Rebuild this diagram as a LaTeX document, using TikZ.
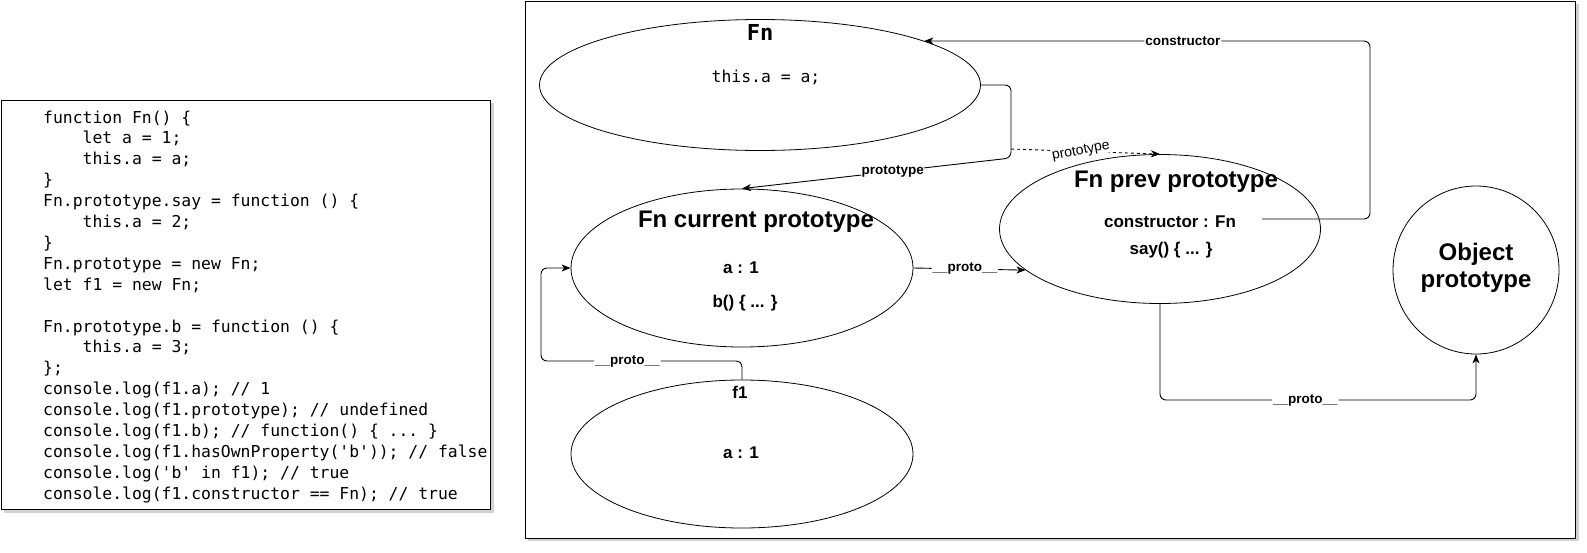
\documentclass[tikz,border=0pt]{standalone}
\usepackage{fontspec}
\setmainfont{Liberation Sans}
\setmonofont{DejaVu Sans Mono}
\usetikzlibrary{shapes.geometric,arrows.meta}
\begin{document}
\begin{tikzpicture}[x=1pt,y=-1pt,
 ell/.style={ellipse,draw,line width=0.8pt,inner sep=0pt},
 tip/.style={-{Stealth[length=9pt,width=7pt,inset=2.5pt]}},
 conn/.style={draw,line width=0.9pt,rounded corners=6pt,tip},
 lbl/.style={fill=white,inner sep=1pt,font=\fontsize{13.5}{15}\selectfont\bfseries},
 lbltwo/.style={fill=white,inner sep=0.5pt,font=\fontsize{14}{15}\selectfont},
 ttl/.style={inner sep=0pt,font=\fontsize{24}{28}\selectfont\bfseries},
 body/.style={inner sep=0pt,font=\fontsize{17}{20}\selectfont\bfseries},
 code/.style={anchor=base west,inner sep=0pt,font=\ttfamily\fontsize{16.4}{20}\selectfont},
]
\useasboundingbox (0,0) rectangle (1587,552);
% code box
\fill[gray!35] (4,103) rectangle (494,513);
\draw[fill=white,line width=0.8pt] (1,100) rectangle (490,509);
\node[code] (c1) at (43,123) {function Fn() \{};
\node[code] (c2) at (82.5,143.9) {let a = 1;};
\node[code] (c3) at (82.5,164.8) {this.a = a;};
\node[code] (c4) at (43,185.7) {\}};
\node[code] (c5) at (43,206.6) {Fn.prototype.say = function () \{};
\node[code] (c6) at (82.5,227.5) {this.a = 2;};
\node[code] (c7) at (43,248.4) {\}};
\node[code] (c8) at (43,269.3) {Fn.prototype = new Fn;};
\node[code] (c9) at (43,290.2) {let f1 = new Fn;};
\node[code] (c11) at (43,332.0) {Fn.prototype.b = function () \{};
\node[code] (c12) at (82.5,352.9) {this.a = 3;};
\node[code] (c13) at (43,373.8) {\};};
\node[code] (c14) at (43,394.7) {console.log(f1.a); // 1};
\node[code] (c15) at (43,415.6) {console.log(f1.prototype); // undefined};
\node[code] (c16) at (43,436.5) {console.log(f1.b); // function() \{ ... \}};
\node[code] (c17) at (43,457.4) {console.log(f1.hasOwnProperty('b')); // false};
\node[code] (c18) at (43,478.3) {console.log('b' in f1); // true};
\node[code] (c19) at (43,499.2) {console.log(f1.constructor == Fn); // true};
% diagram frame
\fill[gray!35] (528,4) rectangle (1579,541);
\draw[fill=white,line width=0.8pt] (525,1) rectangle (1575,538);
% ellipses
\node[ell,minimum width=441,minimum height=131] (fn) at (760,85) {};
\node[ell,minimum width=342,minimum height=158] (cur) at (742,268) {};
\node[ell,minimum width=342,minimum height=148] (f1) at (742,454) {};
\node[ell,minimum width=321,minimum height=149] (prev) at (1160,229) {};
\node[ell,minimum width=166,minimum height=168] (obj) at (1476,270) {};
% texts
\node[inner sep=0pt,font=\ttfamily\bfseries\fontsize{22}{24}\selectfont] (fnt) at (760,32) {Fn};
\node[inner sep=0pt,font=\ttfamily\fontsize{16.4}{20}\selectfont] (fnb) at (766,77) {this.a = a;};
\node[ttl] (curt) at (756,222) {Fn current prototype};
\node[body] (cura) at (741,268) {a : 1};
\node[body] (curb) at (745,303) {b() \{ ... \}};
\node[body] (f1t) at (740,392) {f1};
\node[body] (f1a) at (741,453) {a : 1};
\node[ttl] (prevt) at (1176,182) {Fn prev prototype};
\node[body] (ctor) at (1170,222) {constructor : Fn};
\node[body] (say) at (1171,250) {say() \{ ... \}};
\node[ttl,align=center,font=\fontsize{24}{27}\selectfont\bfseries] (objt) at (1476,268) {Object\\prototype};
% connectors
\coordinate (cs) at (1262,219);
\draw[conn] (cs) -- (1370,219) -- (1370,41) -- node[lbl,pos=0.42] {constructor} (fn.15);
\draw[conn] (fn.east) -- (1011,85) -- (1011,158) -- node[lbl,pos=0.44] {prototype} (cur.north);
\coordinate (ds) at (1011,149);
\draw[line width=0.9pt,dashed,tip] (ds) -- node[lbltwo,pos=0.47,rotate=11] {prototype} (prev.north);
\draw[conn] (cur.east) -- node[lbl,pos=0.46] {\_\_proto\_\_} (prev.197);
\draw[conn] (f1.north) -- (742,361) -- node[lbl,pos=0.57] {\_\_proto\_\_} (541,361) -- (541,268) -- (cur.west);
\draw[conn] (prev.south) -- (1160,400) -- node[lbl,pos=0.46] {\_\_proto\_\_} (1476,400) -- (obj.south);
\end{tikzpicture}
\end{document}
